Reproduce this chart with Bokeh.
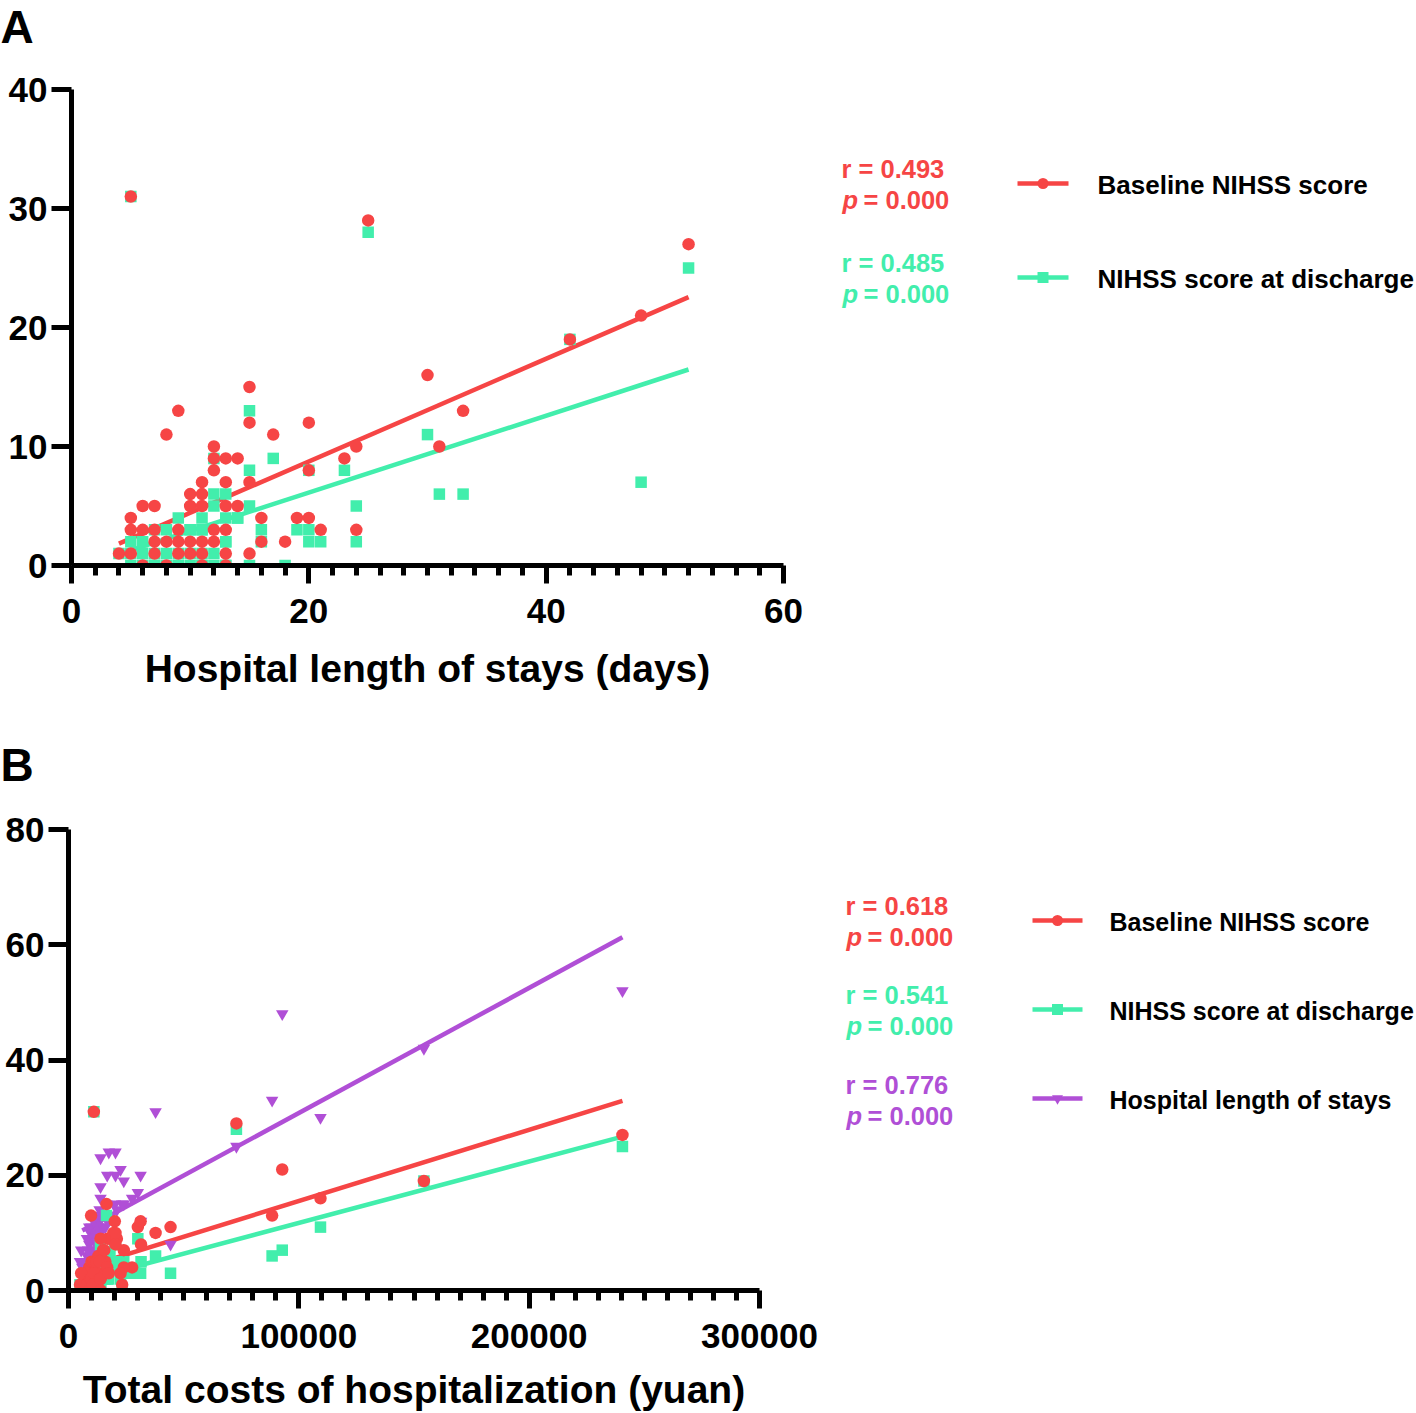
from bokeh.plotting import figure
from bokeh.models import FixedTicker, Label, NumeralTickFormatter, Range1d
from bokeh.layouts import column, row
from bokeh.embed import file_html
from bokeh.resources import INLINE

FONT = "Liberation Sans"
RED = "#F64545"
GREEN = "#42EEAC"
PURPLE = "#B04FD6"

# ---------------- data (one entry per patient) ----------------
los_days = [4, 5, 5, 5, 5, 6, 6, 6, 7, 7, 7, 7, 8, 8, 8, 9, 9, 9, 9, 10, 10, 10, 10,
            11, 11, 11, 11, 11, 11, 12, 12, 12, 12, 12, 13, 13, 13, 13, 13, 13, 14, 14,
            15, 15, 15, 15, 16, 16, 17, 18, 19, 20, 20, 20, 21, 23, 24, 24, 25, 30, 31,
            33, 42, 48, 52]
nihss_base = [1, 31, 4, 3, 1, 5, 3, 0, 5, 3, 2, 1, 11, 2, 0, 13, 3, 2, 1, 6, 5, 2, 1,
              7, 6, 5, 2, 1, 0, 10, 9, 8, 3, 2, 9, 7, 5, 3, 1, 0, 9, 5,
              15, 12, 7, 1, 4, 2, 11, 2, 4, 12, 8, 4, 3, 9, 10, 3, 29, 16, 10,
              13, 19, 21, 27]
nihss_dis = [1, 31, 2, 0, 1, 2, 1, 0, 3, 0, 1, 0, 3, 1, 0, 4, 1, 0, 0, 3, 3, 1, 0,
             4, 3, 3, 1, 0, 0, 9, 6, 5, 1, 0, 6, 4, 2, 2, 0, 0, 4, 4,
             13, 8, 5, 0, 3, 2, 9, 0, 3, 3, 8, 2, 2, 8, 5, 2, 28, 11, 6,
             6, 19, 7, 25]
cost_yuan = [6000, 11000, 9000, 7500, 5000, 10000, 8000, 9500, 11000, 5500, 10500, 8500,
             44300, 12000, 9000, 9800, 13000, 11500, 8000, 14000, 12500, 9500, 11000,
             15000, 13000, 16000, 10000, 12500, 9000, 19500, 17000, 31500, 11000, 13500,
             18000, 15500, 12000, 16000, 10500, 14000, 21000, 13500,
             16500, 20100, 24000, 23300, 27600, 13900, 30100, 13900, 24000, 31300, 20400,
             16800, 22600, 13900, 20400, 17500, 72900, 109400, 37800, 88400, 154300,
             92800, 240500]

# regression lines (end points)
fitA_days = [4, 52]
fitA_base = [1.84, 22.55]
fitA_dis = [0.96, 16.47]
fitB_cost = [6000, 240500]
fitB_base = [3.9, 32.9]
fitB_dis = [1.7, 26.7]
fitB_los = [10.4, 61.3]

# axes
xA_ticks = [0, 20, 40, 60]
xA_minor = [2, 4, 6, 8, 10, 12, 14, 16, 18, 22, 24, 26, 28, 30, 32, 34, 36, 38,
            42, 44, 46, 48, 50, 52, 54, 56, 58]
yA_ticks = [0, 10, 20, 30, 40]
xB_ticks = [0, 100000, 200000, 300000]
xB_minor = [10000, 20000, 30000, 40000, 50000, 60000, 70000, 80000, 90000,
            110000, 120000, 130000, 140000, 150000, 160000, 170000, 180000, 190000,
            210000, 220000, 230000, 240000, 250000, 260000, 270000, 280000, 290000]
yB_ticks = [0, 20, 40, 60, 80]

titleA = "Hospital length of stays (days)"
titleB = "Total costs of hospitalization (yuan)"
statsA = ["r = 0.493", "r = 0.485"]
statsB = ["r = 0.618", "r = 0.541", "r = 0.776"]
p_text = "= 0.000"
labelsA = ["Baseline NIHSS score", "NIHSS score at discharge"]
labelsB = ["Baseline NIHSS score", "NIHSS score at discharge", "Hospital length of stays"]
colorsA = [RED, GREEN]
colorsB = [RED, GREEN, PURPLE]
markersA = ["circle", "square"]
markersB = ["circle", "square", "inverted_triangle"]

LINE_W = 4.5
AXIS_W = 5


def blank_fig(width, height, x0, x1, y0, y1, top=0, bottom=0):
    p = figure(width=width, height=height, x_range=Range1d(x0, x1), y_range=Range1d(y1, y0),
               x_axis_type=None, y_axis_type=None, output_backend="svg",
               toolbar_location=None, min_border_left=0, min_border_right=0,
               min_border_top=top, min_border_bottom=bottom)
    p.grid.visible = False
    p.outline_line_color = None
    return p


def main_fig(width, height, xr, yr, left, right, top, bottom):
    p = figure(width=width, height=height, x_range=xr, y_range=yr,
               output_backend="svg", toolbar_location=None,
               min_border_left=left, min_border_right=right,
               min_border_top=top, min_border_bottom=bottom)
    p.grid.visible = False
    p.outline_line_color = None
    return p


def style_axes(p, xt, xm, yt, title, title_standoff, fmt=None):
    for ax in (p.xaxis[0], p.yaxis[0]):
        ax.axis_line_width = AXIS_W
        ax.axis_line_color = "black"
        ax.major_tick_line_width = AXIS_W
        ax.minor_tick_line_width = AXIS_W
        ax.major_tick_line_color = "black"
        ax.minor_tick_line_color = "black"
        ax.major_tick_in = 0
        ax.minor_tick_in = 0
        ax.major_label_text_font = FONT
        ax.major_label_text_font_size = "35px"
        ax.major_label_text_font_style = "bold"
        ax.major_label_text_color = "black"
    p.xaxis.ticker = FixedTicker(ticks=xt, minor_ticks=xm)
    p.xaxis.major_tick_out = 18
    p.xaxis.minor_tick_out = 10
    p.xaxis.major_label_standoff = 15
    p.xaxis.axis_label = title
    p.xaxis.axis_label_text_font = FONT
    p.xaxis.axis_label_text_font_size = "39px"
    p.xaxis.axis_label_text_font_style = "bold"
    p.xaxis.axis_label_text_color = "black"
    p.xaxis.axis_label_standoff = title_standoff
    p.yaxis.ticker = FixedTicker(ticks=yt, minor_ticks=[])
    p.yaxis.major_tick_out = 20
    p.yaxis.minor_tick_out = 0
    p.yaxis.major_label_standoff = 4
    if fmt is not None:
        p.xaxis.formatter = fmt


def text(p, x, y, s, size, color="black", style="bold"):
    p.add_layout(Label(x=x, y=y, text=s, text_font=FONT, text_font_size=size,
                       text_font_style=style, text_color=color, text_align="left",
                       text_baseline="middle"))


def side_panel(p, stats, colors, labels, markers, stat_x, stat_y, row_gap,
               key_x0, key_x1, key_y, key_gap, label_x, label_size):
    for i, (st, col, lab, mk) in enumerate(zip(stats, colors, labels, markers)):
        ys = stat_y + i * row_gap
        text(p, stat_x, ys, st, "25.5px", col)
        text(p, stat_x + 1, ys + 31, "p", "25.5px", col, style="bold italic")
        text(p, stat_x + 22, ys + 31, p_text, "25.5px", col)
        yk = key_y + i * key_gap
        p.line([key_x0, key_x1], [yk, yk], line_color=col, line_width=LINE_W)
        p.scatter([(key_x0 + key_x1) / 2], [yk], marker=mk, size=11,
                  fill_color=col, line_color=None)
        text(p, label_x, yk + 1, lab, label_size)


# ---------------- Panel A ----------------
letterA = blank_fig(1416, 52, 0, 1416, 0, 52)
text(letterA, 0, 26, "A", "46px")

pA = main_fig(810, 648, (0, 60), (0, 40), 71, 27, 37, 135)
style_axes(pA, xA_ticks, xA_minor, yA_ticks, titleA, 21)
pA.line(fitA_days, fitA_base, line_color=RED, line_width=LINE_W)
pA.line(fitA_days, fitA_dis, line_color=GREEN, line_width=LINE_W)
pA.scatter(los_days, nihss_dis, marker="square", size=11.5, fill_color=GREEN, line_color=None)
pA.scatter(los_days, nihss_base, marker="circle", size=12.5, fill_color=RED, line_color=None)

sideA = blank_fig(606, 648, 810, 1416, 89, 565, top=37, bottom=135)
side_panel(sideA, statsA, colorsA, labelsA, markersA, 841, 168, 94,
           1017, 1068, 183, 94, 1097, "26px")

# ---------------- Panel B ----------------
letterB = blank_fig(1416, 90, 0, 1416, 700, 790)
text(letterB, 0, 764, "B", "46px")

pB = main_fig(819, 623, (0, 300000), (0, 80), 68, 60, 39, 123)
style_axes(pB, xB_ticks, xB_minor, yB_ticks, titleB, 17, NumeralTickFormatter(format="0"))
pB.line(fitB_cost, fitB_los, line_color=PURPLE, line_width=LINE_W)
pB.line(fitB_cost, fitB_base, line_color=RED, line_width=LINE_W)
pB.line(fitB_cost, fitB_dis, line_color=GREEN, line_width=LINE_W)
pB.scatter(cost_yuan, los_days, marker="inverted_triangle", size=12.5,
           fill_color=PURPLE, line_color=None)
pB.scatter(cost_yuan, nihss_dis, marker="square", size=11.5, fill_color=GREEN, line_color=None)
pB.scatter(cost_yuan, nihss_base, marker="circle", size=12.5, fill_color=RED, line_color=None)

sideB = blank_fig(597, 623, 819, 1416, 829, 1290, top=39, bottom=123)
side_panel(sideB, statsB, colorsB, labelsB, markersB, 845, 905, 89.5,
           1032, 1082, 920, 89, 1109, "25px")

layout = column(letterA, row(pA, sideA), letterB, row(pB, sideB))
open("out.html", "w").write(file_html(layout, INLINE))
